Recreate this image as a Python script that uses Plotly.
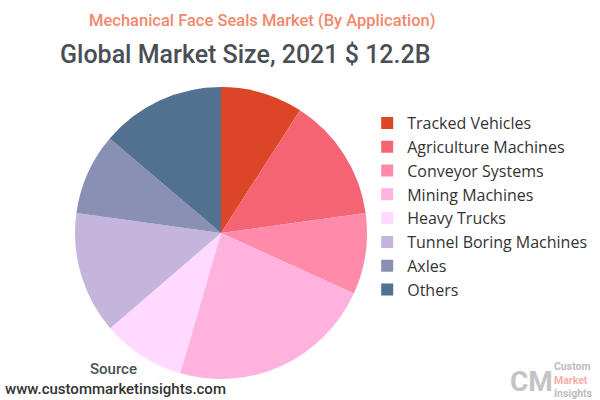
import plotly.graph_objects as go

categories = ["Tracked Vehicles", "Agriculture Machines", "Conveyor Systems",
              "Mining Machines", "Heavy Trucks", "Tunnel Boring Machines",
              "Axles", "Others"]
shares = [9.1, 13.7, 9.0, 22.7, 9.2, 13.5, 9.0, 13.8]
colors = ["#DC4526", "#F46473", "#FF8AAA", "#FFB2DE", "#FFD9FF",
          "#C5B5DC", "#8A90B3", "#52708F"]

fig = go.Figure(go.Pie(
    labels=categories,
    values=shares,
    sort=False,
    direction="clockwise",
    rotation=0,
    textinfo="none",
    marker=dict(colors=colors, line=dict(width=0)),
    domain=dict(x=[0.125, 0.6117], y=[0.0525, 0.7825]),
))

fig.update_layout(
    width=600, height=400,
    margin=dict(l=0, r=0, t=0, b=0),
    paper_bgcolor="white",
    plot_bgcolor="white",
    showlegend=True,
    legend=dict(x=0.612, y=0.735, xanchor="left", yanchor="top",
                font=dict(family="Open Sans", size=16, color="#333333"),
                bgcolor="rgba(0,0,0,0)"),
)

def note(text, x, y, size, color, xanchor="center", family="Roboto", align="center", weight=400):
    fig.add_annotation(text=text, x=x/600, y=1-y/400, xref="paper", yref="paper",
                       showarrow=False, xanchor=xanchor, yanchor="middle", align=align,
                       font=dict(family=family, size=size, color=color, weight=weight))

note("Mechanical Face Seals Market (By Application)", 262, 20, 16.5, "#F4876B", weight=500)
note("Global Market Size, 2021 $ 12.2B", 245, 55, 25, "#4A4F55", weight=500)
note("Source", 113, 369, 15, "#4A4F55", weight=500)
note("www.custommarketinsights.com", 115, 389, 15, "#333333", weight=500)
# logo
note("<b>CM</b>", 531, 381, 28, "#C4C4C4")
note("<b>Custom</b><br><b><span style='color:#F5B0A5'>Market</span></b><br><b>Insights</b>",
     552, 380, 10.5, "#BDBDBD", xanchor="left", align="left")

fig.write_html("out.html", config={"displayModeBar": False},
               post_script="document.body.style.margin='0';document.body.style.overflow='hidden';")
